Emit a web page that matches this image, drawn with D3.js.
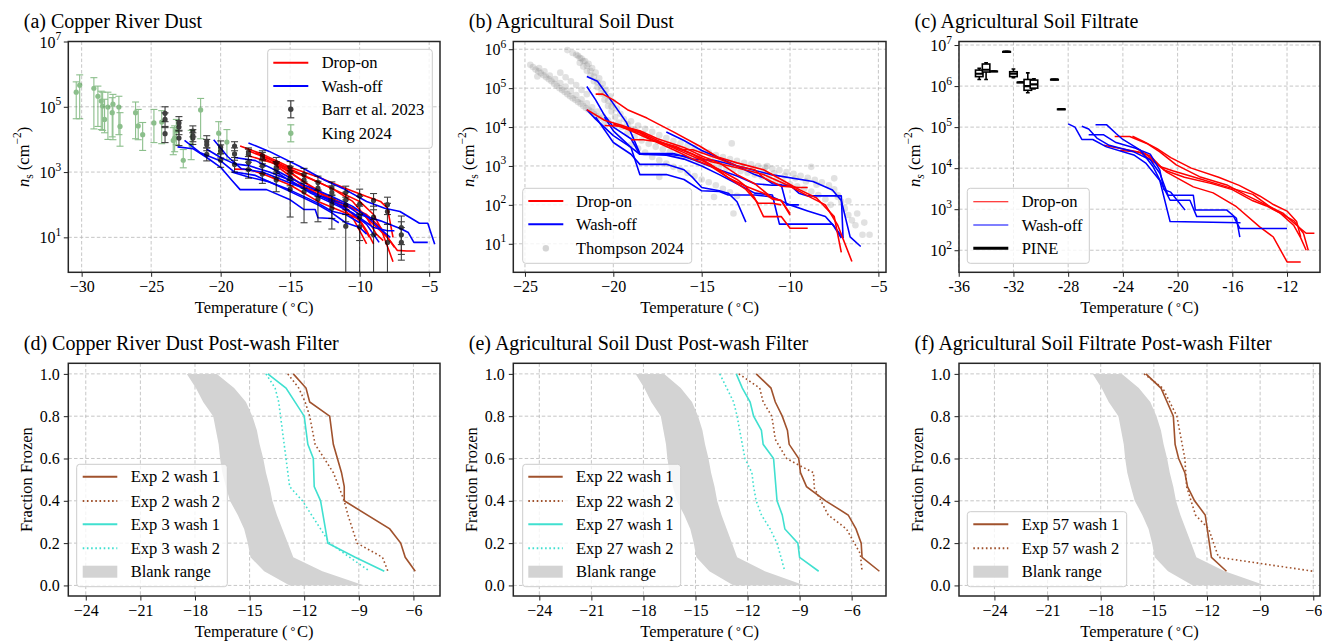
<!DOCTYPE html>
<html><head><meta charset="utf-8">
<script src="https://cdn.jsdelivr.net/npm/d3@7"></script>
<style>
body{margin:0;background:#fff;}
svg{font-family:"Liberation Serif","Times New Roman",serif;}
</style></head><body>
<svg id="c" width="1322" height="643"></svg>
<script>
// ================= DATA =================
// Panel (a) Copper River Dust: [T, ns]
const aDropOn = [
 [[-18.6,6300],[-17,3550],[-15,1400],[-13,710],[-11,316],[-9.5,178],[-8.5,126],[-8,79],[-7.6,10]],
 [[-18,4470],[-16.5,2510],[-15,1120],[-13,500],[-11,200],[-10,126],[-9,50],[-8.5,20],[-7.6,1.8]],
 [[-19,1230],[-18,1200],[-17,890],[-15,400],[-13,126],[-11,56],[-10,35],[-9.5,16],[-9,6.3]],
 [[-17.5,4000],[-16,2000],[-14,790],[-12,316],[-10.5,126],[-9.5,40],[-8.8,12.6],[-8.3,7.9]],
 [[-17,2800],[-15,1000],[-13,250],[-11.5,100],[-10.5,40],[-10,16],[-9.5,6.3]],
 [[-16,1580],[-14,355],[-12,126],[-10,63],[-9,25],[-8,10],[-7.3,4],[-6.6,3.8],[-6,3.8]],
 [[-18,3160],[-16,1780],[-14,500],[-12,158],[-10.5,79],[-9.5,50],[-8.5,20],[-7.5,5]],
 [[-15,500],[-13,250],[-11,79],[-10,32],[-9.3,10]]
];
const aWashOff = [
 [[-23.1,5900],[-22,5200],[-21,2800],[-20,1400],[-19.2,560],[-18.6,290],[-16.7,290],[-15,141],[-14,71],[-13.2,71],[-13,40],[-12,38],[-11.5,28]],
 [[-22.6,9300],[-21.5,4000],[-20,2200],[-19,1000],[-17.5,790],[-16,400],[-14.5,200],[-13,100],[-12,56],[-11,28],[-10,20],[-9.5,12.6]],
 [[-20.5,9800],[-19.5,3000],[-18.5,1260],[-17,1000],[-15.5,560],[-14,316],[-12.5,158],[-11,79],[-9.5,25],[-8.6,7]],
 [[-18,7800],[-16.5,4300],[-14.3,1480],[-12.5,560],[-11.2,316],[-9.5,126],[-8.2,78],[-7.1,62],[-5.7,27],[-5.1,27],[-4.6,6.2]],
 [[-21,5000],[-20,2800],[-19,1780],[-18,1580],[-16.5,1000],[-15,560],[-13.5,224],[-12,112],[-10.5,56],[-9,20],[-8,16],[-7.5,16]],
 [[-19,2800],[-17.5,2240],[-16,1120],[-14,400],[-12,178],[-10.5,89],[-9.5,45],[-8.5,18],[-7.8,10]],
 [[-16,1000],[-14.5,400],[-13,200],[-11,100],[-10,50],[-8.5,32],[-7,18],[-6.5,14],[-6.1,7],[-5.1,7]],
 [[-19.2,1000],[-18,710],[-16.5,500],[-15,280],[-13,112],[-12,63],[-11,50],[-10,28]]
];
const barrT  = [-24,-24,-24,-23,-23,-23,-22,-22,-22,-21,-21,-21,-20,-20,-20,-19,-19,-19,-18,-18,-18,-18,-17,-17,-17,-17,-16,-16,-16,-16,-15,-15,-15,-15,-14,-14,-14,-13,-13,-13,-12,-12,-12,-12,-11,-11,-11,-11,-10,-10,-10,-10,-9,-9,-9,-8,-8,-8,-7,-7,-7];
const barrNs = [6.3e4,4.1e4,1.5e4,3.2e4,2.4e4,1.1e4,1.8e4,1.3e4,1.1e4,8700,6900,3500,5800,4400,2300,6300,3600,1700,4100,3500,1950,1200,3200,2700,1550,870,1900,1400,1200,575,1400,980,680,300,830,575,250,480,320,150,320,235,105,78,235,140,98,22,186,105,42,21,135,42,12,100,62,7,20,7,12];
const barrHi = [1e5,6.5e4,2.5e4,5e4,3.8e4,1.8e4,2.6e4,2e4,1.6e4,1.3e4,1e4,5500,9000,6800,3700,8500,5500,2800,5500,5000,3000,2000,4500,4000,2400,1500,2800,2100,1900,1000,2100,1500,1100,550,1300,900,450,750,520,280,500,380,200,150,370,240,170,50,300,180,90,55,220,90,35,170,110,25,45,20,30];
const barrLo = [3.5e4,2.3e4,8000,1.9e4,1.4e4,6500,1.2e4,8500,7000,5500,4500,2200,3600,2700,1400,4500,2300,1000,3000,2400,1200,650,2200,1800,900,450,1200,900,700,250,900,600,380,42,500,320,28,280,180,30,190,130,38,18,140,70,30,0.1,100,50,8,0.1,70,12,0.1,50,25,0.1,6,2,3];
const kingT  = [-30.39,-30.14,-29.12,-28.83,-28.59,-28.49,-28.35,-28.11,-27.8,-27.75,-27.32,-27.24,-26.12,-25.93,-25.61,-24.8,-24.24,-23.41,-23.31,-23.19,-22.69,-22.12,-21.44,-20.14,-19.55];
const kingNs = [2.8e5,4.6e5,3.7e5,2.1e5,1.5e5,1.05e5,4.1e4,9.8e4,6.6e4,1.2e5,9.8e4,2.5e4,6.6e4,2.6e4,1.4e4,3.2e4,3.4e4,9300,1.1e4,1.8e4,2300,6500,8e4,1.55e4,8300];
const kingHi = [5.8e5,9.5e5,7.8e5,4.3e5,3e5,2.8e5,1.7e5,2.8e5,1.9e5,2.4e5,2.1e5,6.6e4,1.4e5,8.3e4,3.3e4,8.3e4,7.6e4,2.3e4,2.6e4,4.1e4,4900,1.9e4,1.8e5,3.5e4,2e4];
const kingLo = [4.3e4,4.3e4,2.1e4,2.5e4,2e4,1.9e4,1.6e4,1e4,1.2e4,9800,1.4e4,6200,1.05e4,9800,4600,8000,7400,3400,4200,6900,1350,2400,1.05e4,3400,2400];

// Panel (b) Agricultural Soil Dust
const bDropOn = [
 [[-21,7e4],[-20.6,7e4],[-20,5e4],[-19.2,2.8e4],[-18.1,1.7e4],[-16.6,7.5e3],[-15.1,3.2e3],[-14.1,1.7e3],[-13,1.2e3],[-11.5,800],[-10.5,450],[-9.5,250],[-8.5,150],[-7.5,50],[-7.1,6]],
 [[-21.5,2.8e4],[-20.5,1.5e4],[-19.5,1.1e4],[-18.5,7.5e3],[-17.5,4.5e3],[-16.5,3e3],[-15.5,2e3],[-14.5,1.3e3],[-13,900],[-11.5,600],[-10,300],[-9,170],[-8,100],[-7.3,30],[-6.5,3.5]],
 [[-20.5,1.1e4],[-19.5,1.05e4],[-18.5,8e3],[-17.5,5e3],[-16,3e3],[-15,1.8e3],[-14,1.2e3],[-13,600],[-12,350],[-11,150],[-10.5,130],[-10,60]],
 [[-19,4.7e3],[-18.3,4.7e3],[-17.5,4.2e3],[-16.5,3.2e3],[-15.5,2e3],[-14.5,1.1e3],[-13.5,500],[-12.5,300],[-12,150],[-11.5,50],[-10.5,50],[-10,25],[-9,25]],
 [[-16.2,2.7e3],[-15.5,2.6e3],[-14,1.5e3],[-13,1e3],[-12,800],[-11.5,500],[-10.5,300],[-9.5,280],[-9,280]],
 [[-20,1.2e4],[-19,8e3],[-18,5e3],[-17,3.5e3],[-16,2.2e3],[-15,1.4e3],[-14,800],[-13,450],[-12.5,300],[-11.5,200],[-11,140],[-10.5,130],[-10,55]],
 [[-19.5,1e4],[-18.5,7e3],[-17.5,4e3],[-16.5,2.5e3],[-15.5,1.5e3],[-14.5,1e3],[-13.5,500],[-12.5,250],[-11.8,110],[-11,110],[-10.5,100]]
];
const bWashOff = [
 [[-21.5,2e5],[-20.9,1.5e5],[-20,4e4],[-19.25,1.3e4],[-18.5,2.1e3],[-16.6,2.1e3],[-15.5,1.5e3],[-14.3,1.4e3],[-12.8,950],[-11,590],[-8.7,400],[-7.6,240],[-7.1,130],[-6.6,15],[-6.0,8.5]],
 [[-21.5,1.1e5],[-21,5e4],[-20.5,2e4],[-20,1e4],[-19,5e3],[-18.5,2e3],[-17,2e3],[-16,1.8e3],[-15,1.2e3],[-14,800],[-13,550],[-12,350],[-11,320],[-10,320],[-9.5,200],[-9,170],[-7.1,170],[-7.0,14]],
 [[-21.5,2.8e4],[-21,1.6e4],[-20,6e3],[-19,3e3],[-18.5,2e3],[-17,1.9e3],[-16,1.5e3],[-15,1e3],[-14,600],[-13,350],[-12,200],[-11,180],[-10.6,32],[-7.6,32],[-7.1,14]],
 [[-21,1.8e4],[-20,4e3],[-19,2e3],[-18.5,1.1e3],[-17,1.1e3],[-16,800],[-15.5,500],[-15,280],[-14,230],[-13.5,200],[-13,120],[-12.5,36]],
 [[-20.5,1.8e4],[-20,8e3],[-19,3e3],[-18.5,600],[-17,600],[-16,450],[-15,230],[-14,220],[-13.5,180],[-12,180],[-11,160],[-10,100],[-9,70],[-8,50],[-7.5,28],[-7,14]],
 [[-17,7.5e3],[-16,4.5e3],[-15,2.5e3],[-14,1.6e3],[-13,1e3],[-12,600],[-11.5,500],[-11,350],[-10.5,330],[-10.2,100],[-9.5,100]]
];
const thompson = [
 [-24.7,4.0e5],[-24.4,3.0e5],[-24.1,2.4e5],[-23.8,1.9e5],[-23.5,1.5e5],[-23.2,1.15e5],[-22.9,9.0e4],[-22.6,7.0e4],[-22.3,5.5e4],[-22.0,4.4e4],[-21.7,3.5e4],[-21.4,2.8e4],[-21.1,2.2e4],[-20.8,1.7e4],[-20.5,1.35e4],
 [-24.55,3.5e5],[-24.25,2.7e5],[-23.95,2.15e5],[-23.65,1.7e5],[-23.35,1.3e5],[-23.05,1.0e5],[-22.75,8.0e4],[-22.45,6.2e4],[-22.15,5.0e4],[-21.85,4.0e4],[-21.55,3.1e4],[-21.25,2.5e4],[-20.95,1.9e4],
 [-24.2,3.3e5],[-23.9,2.7e5],[-23.6,2.1e5],[-23.3,1.7e5],[-23.0,1.35e5],[-22.7,1.1e5],[-22.4,8.5e4],[-22.1,6.6e4],[-21.8,5.2e4],[-21.5,4.1e4],[-21.2,3.2e4],[-20.9,2.5e4],[-20.6,1.9e4],[-20.3,1.5e4],
 [-24.3,2.0e5],[-23.0,2.5e5],[-22.7,1.9e5],[-22.4,1.5e5],[-22.1,1.2e5],[-21.8,9.0e4],[-21.5,7.0e4],
 [-22.6,9.5e5],[-22.3,8.0e5],[-22.0,6.8e5],[-21.8,5.8e5],[-21.6,5.0e5],[-21.4,4.2e5],[-21.2,3.3e5],[-21.0,2.5e5],[-20.8,1.8e5],[-20.6,1.3e5],[-20.4,9.0e4],[-20.2,6.2e4],[-20.0,4.3e4],[-19.8,3.0e4],[-19.6,2.2e4],[-19.4,1.6e4],[-19.2,1.2e4],[-19.0,9.0e3],
 [-22.1,7.2e5],[-21.9,6.0e5],[-21.7,5.0e5],[-21.5,3.8e5],[-21.3,2.8e5],[-21.1,2.0e5],[-20.9,1.4e5],[-20.7,1.0e5],[-20.5,7.0e4],[-20.3,4.8e4],[-20.1,3.4e4],
 [-21.9,4.5e5],[-21.7,3.6e5],[-21.5,2.8e5],[-21.3,2.1e5],[-21.1,1.5e5],[-20.9,1.05e5],[-20.7,7.3e4],[-20.5,5.0e4],[-20.3,3.5e4],[-20.1,2.5e4],[-19.9,1.8e4],[-19.7,1.3e4],[-19.5,1.0e4],
 [-19.0,1.4e4],[-18.6,1.1e4],[-18.2,9.0e3],[-17.8,7.5e3],[-17.4,6.2e3],[-17.0,5.2e3],[-16.6,4.4e3],[-16.2,3.8e3],[-15.8,3.3e3],[-15.4,2.9e3],[-15.0,2.5e3],[-14.6,2.2e3],[-14.2,1.9e3],[-13.8,1.7e3],[-13.4,1.5e3],[-13.0,1.35e3],[-12.6,1.2e3],[-12.2,1.1e3],[-11.8,1.0e3],[-11.4,930],[-11.0,850],[-10.6,780],[-10.2,700],[-9.8,630],[-9.4,560],[-9.0,500],[-8.6,440],[-8.2,380],[-7.8,320],[-7.5,250],[-7.3,180],[-7.1,120],[-6.9,80],[-6.7,55],[-6.5,40],[-6.3,30],
 [-19.2,7.0e3],[-18.8,5.5e3],[-18.4,4.5e3],[-18.0,3.7e3],[-17.6,3.1e3],[-17.2,2.7e3],[-16.8,2.3e3],[-16.4,2.0e3],[-16.0,1.75e3],[-15.6,1.55e3],[-15.2,1.4e3],[-14.8,1.25e3],[-14.4,1.1e3],[-14.0,1.0e3],[-13.6,900],[-13.2,820],[-12.8,740],[-12.4,670],[-12.0,600],[-11.6,540],[-11.2,480],[-10.8,430],[-10.4,380],[-10.0,340],[-9.6,300],[-9.2,260],[-8.8,220],[-8.4,180],[-8.0,140],[-7.7,100],
 [-18.8,8.5e3],[-18.3,6.5e3],[-17.9,5.2e3],[-17.5,4.3e3],[-16.9,3.5e3],[-16.3,2.8e3],[-15.7,2.2e3],[-15.1,1.8e3],[-14.5,1.5e3],[-13.9,1.3e3],[-13.3,1.1e3],[-12.7,950],[-12.1,850],[-11.5,750],[-10.9,650],[-10.3,560],[-9.7,480],[-9.1,400],[-8.5,330],
 [-19.0,3.5e3],[-18.6,2.8e3],[-18.2,2.2e3],[-17.8,1.7e3],[-17.4,1.4e3],[-17.0,1.15e3],[-16.6,950],[-16.2,800],[-15.8,660],[-15.4,550],[-15.0,450],[-14.6,380],[-14.2,320],[-13.8,260],[-13.4,210],[-13.0,170],
 [-23.8,7.5],[-13.3,3.8e3],[-11.3,1.0e3],[-8.8,950],[-7.5,480],[-7.3,160],[-6.7,125],[-5.9,17],[-5.8,35],[-5.5,17],[-6.2,60],[-13.2,60],[-14.3,160],[-17.4,520]
];

// Panel (c) Agricultural Soil Filtrate
const cDropOn = [
 [[-24.6,5.9e4],[-23.5,5.9e4],[-22.25,4e4],[-21.3,2.5e4],[-20.1,1.2e4],[-18.4,6.2e3],[-16.4,3.9e3],[-15,2.2e3],[-13.5,1.26e3],[-12.3,800],[-11.5,460],[-10.6,260],[-10,260]],
 [[-25.4,3.6e4],[-23.7,2.8e4],[-22.7,2.4e4],[-21.3,1.1e4],[-20.3,8.5e3],[-18.4,5.5e3],[-16.4,3.5e3],[-14.5,2.3e3],[-13,1e3],[-11.5,520],[-10.8,260],[-10.45,100]],
 [[-23,3e4],[-22.3,2.2e4],[-20.8,8e3],[-18.85,3.5e3],[-17.4,2.5e3],[-15.7,1.15e3],[-14,370],[-13,210],[-12,52],[-11,52]],
 [[-24.2,2.7e4],[-23,2.5e4],[-22,2e4],[-21,9e3],[-19.5,6e3],[-17.5,4.2e3],[-16,3e3],[-14.5,1.6e3],[-13.5,1.2e3],[-12.5,800],[-11.5,400],[-11,200],[-10.6,100]],
 [[-23.3,6e4],[-22.5,4.5e4],[-21.5,3e4],[-20.5,1.8e4],[-19,1e4],[-17,6e3],[-15.5,3.8e3],[-14,2.1e3],[-13,1.3e3],[-12,900],[-11.3,500],[-11,210]]
];
const cWashOff = [
 [[-28,1.2e5],[-27.5,1e5],[-27,5e4],[-26.2,5e4],[-25.2,3.3e4],[-23.2,2.1e4],[-22.3,1.3e4],[-21.3,5e3],[-20.55,500],[-15.4,470]],
 [[-27,1.05e5],[-26.5,9e4],[-25.9,5.4e4],[-25,3.6e4],[-23.2,2.5e4],[-22,1.6e4],[-21.3,7.5e3],[-20.7,2.2e3],[-18.85,2.2e3],[-18.7,950],[-16.4,950],[-15.7,600],[-15.45,210]],
 [[-26,1.15e5],[-25.2,1.15e5],[-24.5,7e4],[-24,5e4],[-22.75,2.8e4],[-21.8,1.1e4],[-21.05,3.5e3],[-20.55,1.65e3],[-19.1,1.65e3],[-18.6,660],[-15.9,660],[-15.45,340],[-12,340]],
 [[-26.5,6.5e4],[-25.4,6.5e4],[-24.5,4.2e4],[-23,3e4],[-22,2.2e4],[-21.3,8.9e3],[-21,3e3],[-20.5,2.6e3],[-19.45,950]]
];
// PINE box plots: T, whisker low, q1, median, q3, whisker high
const pineT   = [-34.5,-34.0,-33.45,-32.5,-32.0,-31.45,-30.95,-30.5,-29.0,-28.5];
const pineLo  = [1.45e6,1.45e6,2.3e6,6.9e6,1.6e6,1.24e6,6.9e5,8.5e5,1.45e6,2.75e5];
const pineQ1  = [1.7e6,2.2e6,2.3e6,6.9e6,1.7e6,1.24e6,7.9e5,8.9e5,1.45e6,2.75e5];
const pineMed = [2.0e6,2.5e6,2.3e6,6.9e6,2.0e6,1.24e6,1.0e6,1.1e6,1.45e6,2.75e5];
const pineQ3  = [2.45e6,3.45e6,2.3e6,6.9e6,2.24e6,1.24e6,1.45e6,1.4e6,1.45e6,2.75e5];
const pineHi  = [2.7e6,3.7e6,2.3e6,6.9e6,2.6e6,1.24e6,2.1e6,1.5e6,1.45e6,2.75e5];

// Post-wash filters: [T, fraction frozen]
const blankF     = [1.0,0.933,0.867,0.8,0.733,0.667,0.6,0.533,0.467,0.4,0.333,0.267,0.2,0.133,0.067,0.0];
const blankCold  = [-18.45,-17.95,-17.55,-17.0,-16.85,-16.7,-16.62,-16.5,-16.3,-16.08,-15.65,-15.3,-15.1,-14.95,-14.2,-12.8];
const blankWarm  = [-16.8,-15.85,-15.2,-14.85,-14.6,-14.45,-14.25,-14.1,-13.9,-13.75,-13.5,-13.2,-12.9,-12.6,-11.0,-8.7];
const exp2w1  = [[-12.6,1.0],[-11.9,0.933],[-11.7,0.867],[-10.6,0.8],[-10.4,0.667],[-9.95,0.533],[-9.8,0.467],[-9.8,0.4],[-7.3,0.267],[-6.7,0.2],[-6.45,0.133],[-5.9,0.067]];
const exp2w2  = [[-12.9,1.0],[-12.3,0.933],[-11.95,0.867],[-11.7,0.8],[-11.4,0.667],[-10.9,0.6],[-10.4,0.533],[-10.1,0.467],[-9.8,0.4],[-9.6,0.333],[-9.35,0.267],[-9.1,0.2],[-7.7,0.133],[-7.4,0.067]];
const exp3w1  = [[-14.0,1.0],[-13.0,0.933],[-12.0,0.8],[-11.8,0.667],[-11.5,0.6],[-11.45,0.467],[-11.1,0.4],[-10.7,0.2],[-9.2,0.133],[-7.6,0.067]];
const exp3w2  = [[-14.1,1.0],[-13.6,0.933],[-13.4,0.867],[-13.3,0.8],[-13.0,0.6],[-12.8,0.467],[-12.1,0.4],[-11.1,0.267],[-10.6,0.2],[-9.5,0.133],[-8.4,0.067]];
const exp22w1 = [[-11.5,1.0],[-10.65,0.933],[-10.4,0.867],[-10.0,0.8],[-9.7,0.733],[-9.6,0.667],[-9.05,0.6],[-8.95,0.533],[-8.6,0.467],[-7.5,0.4],[-6.2,0.333],[-5.75,0.267],[-5.45,0.2],[-5.4,0.133],[-4.4,0.067]];
const exp22w2 = [[-12.5,1.0],[-11.3,0.933],[-11.1,0.867],[-10.6,0.8],[-10.4,0.69],[-9.75,0.6],[-9.0,0.567],[-8.2,0.533],[-8.15,0.46],[-7.35,0.333],[-6.3,0.267],[-5.5,0.15],[-5.4,0.067]];
const exp27w1 = [[-12.65,1.0],[-12.3,0.933],[-11.85,0.867],[-11.65,0.8],[-11.2,0.733],[-11.1,0.667],[-10.5,0.6],[-10.3,0.4],[-10.0,0.333],[-9.85,0.267],[-9.1,0.2],[-9.0,0.133],[-7.9,0.067]];
const exp27w2 = [[-13.6,1.0],[-13.2,0.933],[-12.8,0.867],[-12.6,0.8],[-12.45,0.733],[-12.15,0.6],[-11.75,0.533],[-11.65,0.467],[-11.5,0.4],[-11.2,0.333],[-10.7,0.267],[-10.3,0.2],[-9.85,0.067]];
const exp57w1 = [[-15.45,1.0],[-14.6,0.933],[-13.9,0.8],[-13.8,0.667],[-13.6,0.6],[-13.25,0.533],[-13.1,0.467],[-12.7,0.4],[-12.1,0.333],[-11.75,0.133],[-10.9,0.067]];
const exp57w2 = [[-15.55,1.0],[-14.5,0.933],[-13.7,0.8],[-13.25,0.6],[-13.15,0.467],[-12.65,0.333],[-11.9,0.267],[-11.35,0.133],[-6.0,0.067]];

const xTicksA = [-30,-25,-20,-15,-10,-5];
const xTicksB = [-25,-20,-15,-10,-5];
const xTicksC = [-36,-32,-28,-24,-20,-16,-12];
const xTicksBottom = [-24,-21,-18,-15,-12,-9,-6];
const yTicksA = [1e1,1e3,1e5,1e7];
const yTicksB = [1e1,1e2,1e3,1e4,1e5,1e6];
const yTicksC = [1e2,1e3,1e4,1e5,1e6,1e7];
const yTicksFrac = [0,0.2,0.4,0.6,0.8,1.0];

// ================= DRAWING =================
const FONT = '"Liberation Serif","Times New Roman",serif';
const RED = "#ff0000", BLUE = "#0000ff", SIENNA = "#a0522d", TURQ = "#40e0d0";
const svg = d3.select("#c");
const defs = svg.append("defs");
const minusFmt = d => (d < 0 ? "\u2212" : "") + Math.abs(d);

function panel(p){
  const x = d3.scaleLinear().domain(p.xd).range([p.l, p.r]);
  const y = (p.log ? d3.scaleLog() : d3.scaleLinear()).domain(p.yd).range([p.b, p.t]);
  const g = svg.append("g");
  const cid = "clip-" + p.id;
  defs.append("clipPath").attr("id", cid).append("rect")
    .attr("x", p.l).attr("y", p.t).attr("width", p.r - p.l).attr("height", p.b - p.t);
  const grid = g.append("g").attr("stroke", "#b8b8b8").attr("stroke-width", 0.8).attr("stroke-dasharray", "3.5,2.2");
  p.xt.forEach(t => grid.append("line").attr("x1", x(t)).attr("x2", x(t)).attr("y1", p.t).attr("y2", p.b));
  p.yt.forEach(t => grid.append("line").attr("y1", y(t)).attr("y2", y(t)).attr("x1", p.l).attr("x2", p.r));
  const data = g.append("g").attr("clip-path", `url(#${cid})`);
  const xa = g.append("g").attr("transform", `translate(0,${p.b})`)
    .call(d3.axisBottom(x).tickValues(p.xt).tickSize(4.5).tickPadding(4).tickFormat(p.xf || minusFmt));
  xa.select(".domain").remove();
  xa.selectAll("line").attr("stroke", "#222");
  xa.selectAll("text").attr("font-size", 16).attr("font-family", FONT).attr("fill", "#000");
  const ya = g.append("g").attr("transform", `translate(${p.l},0)`)
    .call(d3.axisLeft(y).tickValues(p.yt).tickSize(4.5).tickPadding(4)
      .tickFormat(p.log ? (() => "") : d3.format(".1f")));
  ya.select(".domain").remove();
  ya.selectAll("line").attr("stroke", "#222");
  ya.selectAll("text").attr("font-size", 16).attr("font-family", FONT).attr("fill", "#000");
  if (p.log) {
    p.yt.forEach(t => {
      const e = Math.round(Math.log10(t));
      const tx = g.append("text").attr("x", p.l - 7).attr("y", y(t) + 6).attr("text-anchor", "end")
        .attr("font-size", 16).attr("font-family", FONT);
      tx.append("tspan").text("10");
      tx.append("tspan").attr("font-size", 11.5).attr("dy", -7.5).text(e);
    });
  }
  g.append("text").attr("x", p.l - 44.5).attr("y", p.t - 13.5).attr("font-size", 20).attr("font-family", FONT).text(p.title);
  const xl = g.append("text").attr("x", (p.l + p.r) / 2).attr("y", p.b + 41).attr("text-anchor", "middle")
    .attr("font-size", 16.5).attr("font-family", FONT);
  xl.append("tspan").text("Temperature (");
  xl.append("tspan").attr("dx", 3).attr("font-size", 12).attr("dy", -2).text("\u00b0");
  xl.append("tspan").attr("dy", 2).attr("dx", 1.5).text("C)");
  const yl = g.append("text").attr("transform", `translate(${p.l - p.ylOff},${(p.t + p.b) / 2}) rotate(-90)`)
    .attr("text-anchor", "middle").attr("font-size", 16.5).attr("font-family", FONT);
  if (p.log) {
    yl.append("tspan").attr("font-style", "italic").text("n");
    const s = yl.append("tspan").attr("dy", 4).attr("font-size", 11.5).text("s");
    if (p.sItalic) s.attr("font-style", "italic");
    yl.append("tspan").attr("dy", -4).text(" (cm");
    yl.append("tspan").attr("dy", -8).attr("font-size", 11.5).text("\u22122");
    yl.append("tspan").attr("dy", 8).text(")");
  } else {
    yl.text("Fraction Frozen");
  }
  return {g, x, y, data, spine: () => g.append("rect").attr("x", p.l).attr("y", p.t)
    .attr("width", p.r - p.l).attr("height", p.b - p.t).attr("fill", "none").attr("stroke", "#262626").attr("stroke-width", 1.5)};
}

function legend(g, box, rows, sx, tx, items){
  g.append("rect").attr("x", box[0]).attr("y", box[1]).attr("width", box[2]).attr("height", box[3])
    .attr("rx", 3).attr("fill", "#fff").attr("fill-opacity", 0.8).attr("stroke", "#cccccc").attr("stroke-width", 1);
  items.forEach((it, i) => {
    const yy = rows[i], cx = (sx[0] + sx[1]) / 2;
    if (it.type === "line") {
      const ln = g.append("line").attr("x1", sx[0]).attr("x2", sx[1]).attr("y1", yy).attr("y2", yy)
        .attr("stroke", it.color).attr("stroke-width", it.w || 2);
      if (it.dash) ln.attr("stroke-dasharray", it.dash);
    } else if (it.type === "err") {
      const e = g.append("g").attr("opacity", it.op);
      e.append("line").attr("x1", cx).attr("x2", cx).attr("y1", yy - 8.5).attr("y2", yy + 8.5).attr("stroke", it.color).attr("stroke-width", 1.2);
      e.append("line").attr("x1", cx - 3.5).attr("x2", cx + 3.5).attr("y1", yy - 8.5).attr("y2", yy - 8.5).attr("stroke", it.color).attr("stroke-width", 1.2);
      e.append("line").attr("x1", cx - 3.5).attr("x2", cx + 3.5).attr("y1", yy + 8.5).attr("y2", yy + 8.5).attr("stroke", it.color).attr("stroke-width", 1.2);
      e.append("circle").attr("cx", cx).attr("cy", yy).attr("r", 2.7).attr("fill", it.color);
    } else if (it.type === "dot") {
      g.append("circle").attr("cx", cx).attr("cy", yy).attr("r", 3.2).attr("fill", "#808080").attr("opacity", 0.3);
    } else if (it.type === "patch") {
      g.append("rect").attr("x", sx[0]).attr("y", yy - 6).attr("width", sx[1] - sx[0]).attr("height", 12).attr("fill", "#d3d3d3");
    }
    g.append("text").attr("x", tx).attr("y", yy + 5.7).attr("font-size", 16.5).attr("font-family", FONT).text(it.label);
  });
}

function drawLines(P, sets, color, w){
  const line = d3.line().x(d => P.x(d[0])).y(d => P.y(d[1]));
  sets.forEach(s => P.data.append("path").attr("d", line(s)).attr("fill", "none")
    .attr("stroke", color).attr("stroke-width", w).attr("stroke-linejoin", "round"));
}
function errorbars(P, T, V, Lo, Hi, color, op, r){
  const gg = P.data.append("g").attr("opacity", op);
  T.forEach((t, i) => {
    const cx = P.x(t), lo = P.y(Math.max(Lo[i], 0.05)), hi = P.y(Hi[i]);
    gg.append("line").attr("x1", cx).attr("x2", cx).attr("y1", hi).attr("y2", lo).attr("stroke", color).attr("stroke-width", 1.1);
    gg.append("line").attr("x1", cx - 3.5).attr("x2", cx + 3.5).attr("y1", hi).attr("y2", hi).attr("stroke", color).attr("stroke-width", 1.1);
    gg.append("line").attr("x1", cx - 3.5).attr("x2", cx + 3.5).attr("y1", lo).attr("y2", lo).attr("stroke", color).attr("stroke-width", 1.1);
    gg.append("circle").attr("cx", cx).attr("cy", P.y(V[i])).attr("r", r).attr("fill", color);
  });
}

const TOP = {t: 41.5, b: 272.3}, BOT = {t: 363.3, b: 596};

// ---- (a)
const A = panel({id: "a", l: 68.3, r: 440, ...TOP, xd: [-30.96, -4.22], yd: [0.85, 1e7], log: true,
  xt: xTicksA, yt: yTicksA, title: "(a) Copper River Dust", ylOff: 39});
errorbars(A, kingT, kingNs, kingLo, kingHi, "#2e8b2e", 0.55, 2.6);
drawLines(A, aDropOn, RED, 1.6);
drawLines(A, aWashOff, BLUE, 1.6);
errorbars(A, barrT, barrNs, barrLo, barrHi, "#000", 0.75, 2.6);
A.spine();
legend(A.g, [267.7, 49.3, 164.6, 99], [62.7, 86, 109.3, 133.3], [273.3, 308.3], 321.7, [
  {type: "line", color: RED, label: "Drop-on"},
  {type: "line", color: BLUE, label: "Wash-off"},
  {type: "err", color: "#000", op: 0.75, label: "Barr et al. 2023"},
  {type: "err", color: "#2e8b2e", op: 0.55, label: "King 2024"}]);

// ---- (b)
const B = panel({id: "b", l: 513.3, r: 886, ...TOP, xd: [-25.66, -4.57], yd: [1.85, 1.58e6], log: true,
  xt: xTicksB, yt: yTicksB, title: "(b) Agricultural Soil Dust", ylOff: 39});
B.data.append("g").selectAll("circle").data(thompson).join("circle")
  .attr("cx", d => B.x(d[0])).attr("cy", d => B.y(d[1])).attr("r", 3.3).attr("fill", "#808080").attr("opacity", 0.24);
drawLines(B, bWashOff, BLUE, 1.6);
drawLines(B, bDropOn, RED, 1.6);
B.spine();
legend(B.g, [522.7, 188.3, 169, 75], [201, 224.3, 248.3], [528.3, 563.3], 576, [
  {type: "line", color: RED, label: "Drop-on"},
  {type: "line", color: BLUE, label: "Wash-off"},
  {type: "dot", label: "Thompson 2024"}]);

// ---- (c)
const C = panel({id: "c", l: 959, r: 1320, ...TOP, xd: [-35.98, -9.59], yd: [29, 1.22e7], log: true,
  xt: xTicksC, yt: yTicksC, title: "(c) Agricultural Soil Filtrate", ylOff: 39, sItalic: true, xf: d => String(d)});
drawLines(C, cDropOn, RED, 1.5);
drawLines(C, cWashOff, BLUE, 1.5);
{
  const bw = 0.55 * (C.x(1) - C.x(0));
  const pg = C.data.append("g").attr("stroke", "#000").attr("stroke-width", 1.6).attr("fill", "none");
  pineT.forEach((t, i) => {
    const cx = C.x(t);
    pg.append("line").attr("x1", cx).attr("x2", cx).attr("y1", C.y(pineHi[i])).attr("y2", C.y(pineQ3[i]));
    pg.append("line").attr("x1", cx).attr("x2", cx).attr("y1", C.y(pineQ1[i])).attr("y2", C.y(pineLo[i]));
    pg.append("line").attr("x1", cx - bw / 4).attr("x2", cx + bw / 4).attr("y1", C.y(pineHi[i])).attr("y2", C.y(pineHi[i]));
    pg.append("line").attr("x1", cx - bw / 4).attr("x2", cx + bw / 4).attr("y1", C.y(pineLo[i])).attr("y2", C.y(pineLo[i]));
    pg.append("rect").attr("x", cx - bw / 2).attr("y", C.y(pineQ3[i])).attr("width", bw)
      .attr("height", Math.max(C.y(pineQ1[i]) - C.y(pineQ3[i]), 0.5)).attr("fill", "#fff");
    pg.append("line").attr("x1", cx - bw / 2).attr("x2", cx + bw / 2).attr("y1", C.y(pineMed[i])).attr("y2", C.y(pineMed[i])).attr("stroke-width", 2.2);
  });
}
C.spine();
legend(C.g, [967.3, 188.3, 122, 75], [201.7, 225, 248.3], [973.3, 1008.3], 1021.7, [
  {type: "line", color: RED, w: 1.1, label: "Drop-on"},
  {type: "line", color: BLUE, w: 1.1, label: "Wash-off"},
  {type: "line", color: "#000", w: 3, label: "PINE"}]);

// ---- bottom panels
function fracPanel(id, l, r, xd, title, curves, leg){
  const P = panel({id, l, r, ...BOT, xd, yd: [-0.05, 1.05], log: false, xt: xTicksBottom, yt: yTicksFrac, title, ylOff: 36});
  const area = d3.area().y(d => P.y(d.f)).x0(d => P.x(d.c)).x1(d => P.x(d.w));
  P.data.append("path").attr("d", area(blankF.map((f, i) => ({f, c: blankCold[i], w: blankWarm[i]})))).attr("fill", "#d3d3d3");
  const line = d3.line().x(d => P.x(d[0])).y(d => P.y(d[1]));
  curves.forEach(c => {
    const pth = P.data.append("path").attr("d", line(c.d)).attr("fill", "none").attr("stroke", c.color).attr("stroke-width", 1.6);
    if (c.dot) pth.attr("stroke-dasharray", "1.6,2.6");
  });
  P.spine();
  legend(P.g, leg.box, leg.rows, leg.sx, leg.tx, curves.map(c => ({type: "line", color: c.color, dash: c.dot ? "1.6,2.6" : null, label: c.label}))
    .concat([{type: "patch", label: "Blank range"}]));
}
fracPanel("d", 68.3, 440, [-24.96, -4.54], "(d) Copper River Dust Post-wash Filter", [
  {d: exp2w1, color: SIENNA, label: "Exp 2 wash 1"},
  {d: exp2w2, color: SIENNA, dot: true, label: "Exp 2 wash 2"},
  {d: exp3w1, color: TURQ, label: "Exp 3 wash 1"},
  {d: exp3w2, color: TURQ, dot: true, label: "Exp 3 wash 2"}],
  {box: [76.7, 464.3, 150.6, 122.4], rows: [476.7, 501, 524.3, 548.3, 571.7], sx: [82.7, 117.3], tx: 130.7});
fracPanel("e", 513.3, 886, [-25.5, -4.02], "(e) Agricultural Soil Dust Post-wash Filter", [
  {d: exp22w1, color: SIENNA, label: "Exp 22 wash 1"},
  {d: exp22w2, color: SIENNA, dot: true, label: "Exp 22 wash 2"},
  {d: exp27w1, color: TURQ, label: "Exp 27 wash 1"},
  {d: exp27w2, color: TURQ, dot: true, label: "Exp 27 wash 2"}],
  {box: [522.7, 464.3, 158, 122.4], rows: [476.7, 501, 524.3, 548.3, 571.7], sx: [528.3, 562.7], tx: 576});
fracPanel("f", 959, 1320, [-26.0, -5.62], "(f) Agricultural Soil Filtrate Post-wash Filter", [
  {d: exp57w1, color: SIENNA, label: "Exp 57 wash 1"},
  {d: exp57w2, color: SIENNA, dot: true, label: "Exp 57 wash 2"}],
  {box: [967.3, 511.7, 159.4, 75], rows: [524.3, 548.3, 571.7], sx: [973.3, 1008.3], tx: 1021.7});
</script></body></html>
